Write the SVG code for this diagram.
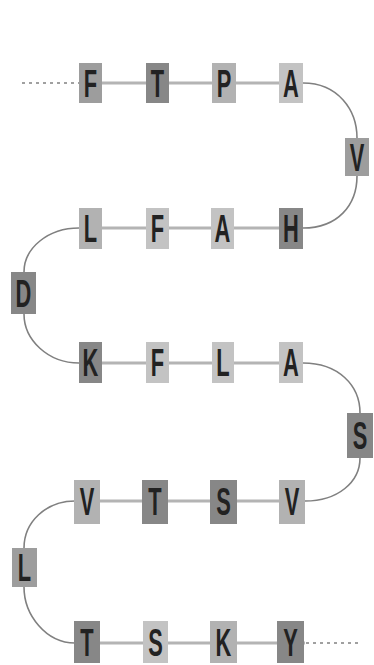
<svg xmlns="http://www.w3.org/2000/svg" width="374" height="665" viewBox="0 0 374 665">
<style>
.bg{fill:#ffffff}
.lnk{stroke:#b4b4b4;stroke-width:3;fill:none}
.crv{stroke:#808080;stroke-width:1.6;fill:none}
.dot{stroke:#a0a0a0;stroke-width:2;stroke-dasharray:3 4;fill:none}
.b1{fill:#878787}
.b2{fill:#9d9d9d}
.b3{fill:#b2b2b2}
.b4{fill:#c3c3c3}
.t{font-family:"Liberation Sans",Arial,sans-serif;font-size:39px;font-weight:bold;fill:#222222;text-anchor:middle}
</style>
<rect class="bg" x="0" y="0" width="374" height="665"/>
<g id="connectors">
<line class="dot" x1="22" y1="83" x2="79" y2="83"/>
<line class="lnk" x1="79" y1="83" x2="303" y2="83"/>
<path class="crv" d="M303,83 C338,83 357,110 357,138"/>
<path class="crv" d="M357,176 C357,205 338,228 303,228"/>
<line class="lnk" x1="79" y1="228" x2="303" y2="228"/>
<path class="crv" d="M79,228 C48,228 24,248 24,272"/>
<path class="crv" d="M24,314 C24,340 48,363 79,363"/>
<line class="lnk" x1="79" y1="363" x2="303" y2="363"/>
<path class="crv" d="M303,363 C338,363 360,385 360,413"/>
<path class="crv" d="M360,458 C360,482 338,501 305,501"/>
<line class="lnk" x1="75" y1="501" x2="305" y2="501"/>
<path class="crv" d="M75,501 C46,501 24,522 24,548"/>
<path class="crv" d="M24,587 C24,615 46,643 75,643"/>
<line class="lnk" x1="75" y1="643" x2="305" y2="643"/>
<line class="dot" x1="306" y1="643" x2="362" y2="643"/>
</g>
<g id="n1"><rect class="b2" x="79" y="63" width="23" height="40"/><text class="t" transform="translate(90.5,97) scale(0.56,1)">F</text></g>
<g id="n2"><rect class="b1" x="146" y="63" width="23" height="40"/><text class="t" transform="translate(157.5,97) scale(0.56,1)">T</text></g>
<g id="n3"><rect class="b3" x="212" y="63" width="24" height="40"/><text class="t" transform="translate(224,97) scale(0.56,1)">P</text></g>
<g id="n4"><rect class="b4" x="279" y="63" width="24" height="40"/><text class="t" transform="translate(291,97) scale(0.56,1)">A</text></g>
<g id="n5"><rect class="b2" x="345" y="138" width="24" height="38"/><text class="t" transform="translate(357,171) scale(0.56,1)">V</text></g>
<g id="n6"><rect class="b3" x="79" y="208" width="23" height="41"/><text class="t" transform="translate(90.5,242) scale(0.56,1)">L</text></g>
<g id="n7"><rect class="b4" x="146" y="208" width="23" height="41"/><text class="t" transform="translate(157.5,242) scale(0.56,1)">F</text></g>
<g id="n8"><rect class="b4" x="211" y="208" width="23" height="41"/><text class="t" transform="translate(222.5,242) scale(0.56,1)">A</text></g>
<g id="n9"><rect class="b1" x="279" y="208" width="24" height="41"/><text class="t" transform="translate(291,242) scale(0.56,1)">H</text></g>
<g id="n10"><rect class="b1" x="11" y="272" width="25" height="42"/><text class="t" transform="translate(23.5,307) scale(0.56,1)">D</text></g>
<g id="n11"><rect class="b1" x="79" y="342" width="23" height="41"/><text class="t" transform="translate(90.5,376) scale(0.56,1)">K</text></g>
<g id="n12"><rect class="b4" x="146" y="342" width="23" height="41"/><text class="t" transform="translate(157.5,376) scale(0.56,1)">F</text></g>
<g id="n13"><rect class="b4" x="212" y="342" width="22" height="41"/><text class="t" transform="translate(223,376) scale(0.56,1)">L</text></g>
<g id="n14"><rect class="b4" x="279" y="342" width="24" height="41"/><text class="t" transform="translate(291,376) scale(0.56,1)">A</text></g>
<g id="n15"><rect class="b1" x="347" y="413" width="26" height="45"/><text class="t" transform="translate(360,449) scale(0.56,1)">S</text></g>
<g id="n16"><rect class="b3" x="74" y="480" width="26" height="44"/><text class="t" transform="translate(87,515) scale(0.56,1)">V</text></g>
<g id="n17"><rect class="b1" x="142" y="480" width="26" height="44"/><text class="t" transform="translate(155,515) scale(0.56,1)">T</text></g>
<g id="n18"><rect class="b1" x="210" y="480" width="27" height="44"/><text class="t" transform="translate(223.5,515) scale(0.56,1)">S</text></g>
<g id="n19"><rect class="b3" x="279" y="480" width="26" height="44"/><text class="t" transform="translate(292,515) scale(0.56,1)">V</text></g>
<g id="n20"><rect class="b2" x="12" y="548" width="25" height="39"/><text class="t" transform="translate(24.5,581) scale(0.56,1)">L</text></g>
<g id="n21"><rect class="b1" x="74" y="621" width="26" height="42"/><text class="t" transform="translate(87,656) scale(0.56,1)">T</text></g>
<g id="n22"><rect class="b4" x="143" y="621" width="25" height="42"/><text class="t" transform="translate(155.5,656) scale(0.56,1)">S</text></g>
<g id="n23"><rect class="b3" x="210" y="621" width="27" height="42"/><text class="t" transform="translate(223.5,656) scale(0.56,1)">K</text></g>
<g id="n24"><rect class="b1" x="277" y="621" width="27" height="42"/><text class="t" transform="translate(290.5,656) scale(0.56,1)">Y</text></g>
</svg>
